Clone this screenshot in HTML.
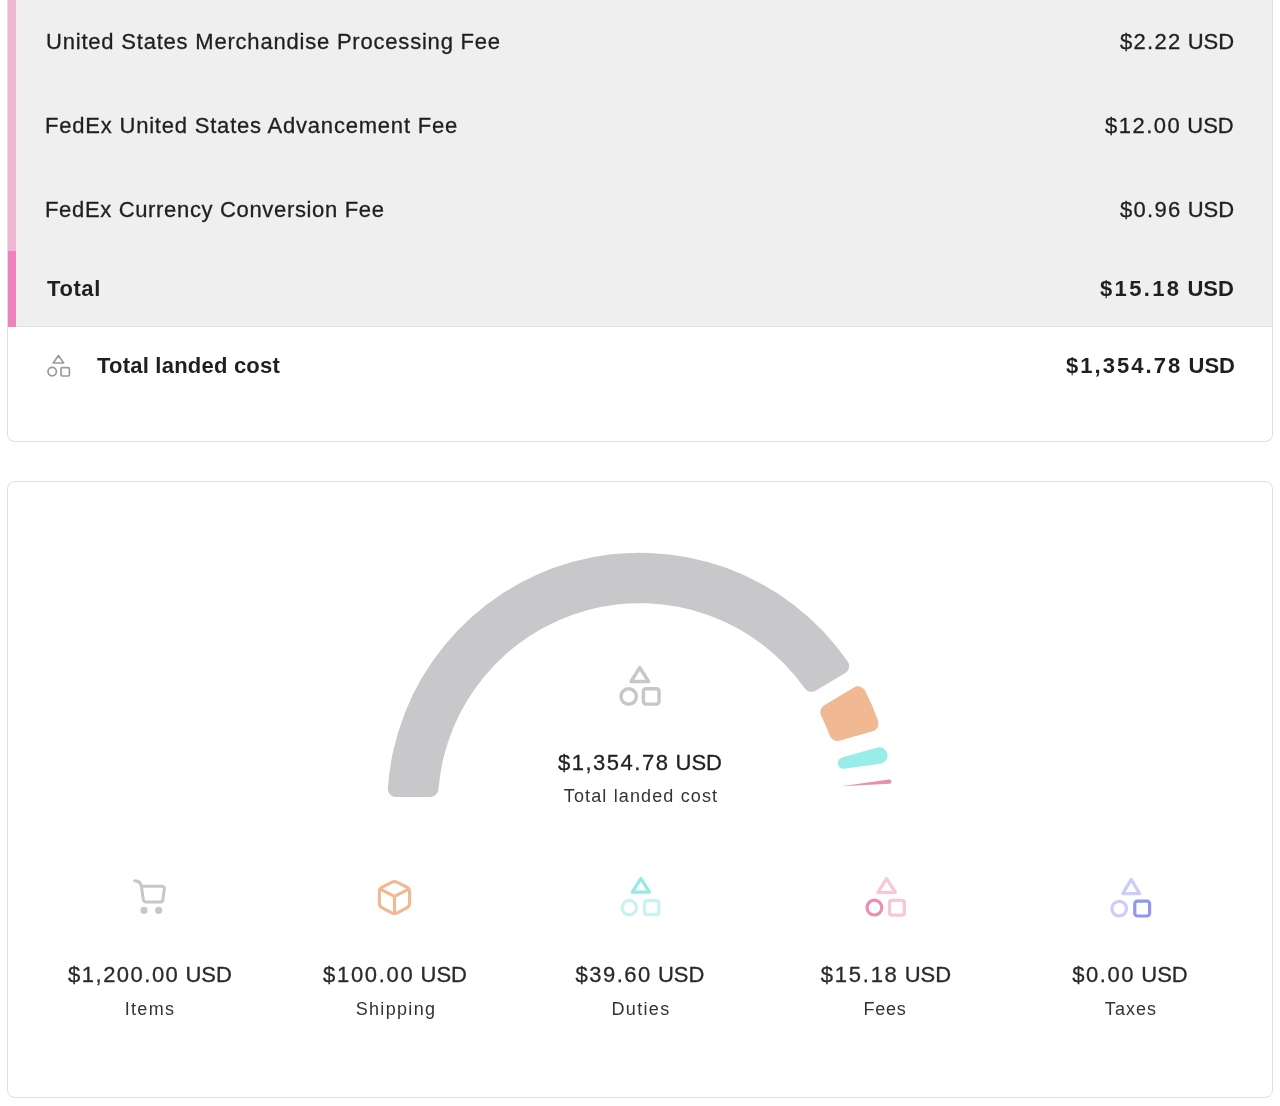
<!DOCTYPE html>
<html><head><meta charset="utf-8">
<style>
html,body{margin:0;padding:0;background:#fff;width:1280px;height:1106px;overflow:hidden;position:relative;font-family:"Liberation Sans",sans-serif;color:#1f1f1f}
.card{position:absolute;left:7px;width:1264px;border:1px solid #e0e0e0;border-radius:8px;background:#fff;box-sizing:content-box}
#c1{top:-20px;height:461px;border-top:none;border-radius:0 0 8px 8px;overflow:hidden}
#c2{top:481px;height:615px}
.gray{position:absolute;left:0;top:0;width:1264px;height:346px;background:#efefef;border-bottom:1px solid #e2e2e2}
.bar1{position:absolute;left:0;top:0;width:8px;height:271px;background:#f2b6d5}
.bar2{position:absolute;left:0;top:271px;width:8px;height:76px;background:#ef82bd}
.t{position:absolute;white-space:nowrap;will-change:transform;-webkit-text-stroke:0.3px currentColor}
svg{position:absolute;left:0;top:0}
</style></head><body>
<div class="card" id="c1">
  <div class="gray"></div>
  <div class="bar1"></div>
  <div class="bar2"></div>
</div>
<div class="card" id="c2"></div>
<svg width="1280" height="1106" viewBox="0 0 1280 1106">
  <g fill="none" stroke="#9b9b9b" stroke-width="1.7" stroke-linejoin="round">
    <path d="M58.4 355.4 L63.6 363 L53.2 363 Z"/>
    <circle cx="52.2" cy="371.6" r="4.2"/>
    <rect x="61" y="367.6" width="8.4" height="8.4" rx="1.2"/>
  </g>
  <g transform="translate(640,805.4)"><path d="M-244.15,-8.47A8.00,8.00,0,0,1,-252.13,-17.01A252.70,252.70,0,0,1,207.73,-143.89A8.00,8.00,0,0,1,205.26,-132.47L175.52,-114.71A8.00,8.00,0,0,1,164.90,-116.95A202.16,202.16,0,0,0,-201.54,-15.84A8.00,8.00,0,0,1,-209.51,-8.47Z" fill="#c8c8ca"/><path d="M213.94,-117.93A8.00,8.00,0,0,1,225.17,-114.69A252.70,252.70,0,0,1,238.16,-84.48A8.00,8.00,0,0,1,232.78,-74.11L199.44,-64.75A8.00,8.00,0,0,1,189.77,-69.70A202.16,202.16,0,0,0,181.15,-89.75A8.00,8.00,0,0,1,184.21,-100.17Z" fill="#f0b994"/><path d="M237.36,-57.79A8.00,8.00,0,0,1,247.35,-51.73A252.70,252.70,0,0,1,247.44,-51.28A8.00,8.00,0,0,1,240.70,-41.73L204.28,-36.71A5.71,5.71,0,0,1,201.96,-47.86Z" fill="#98ede9"/><path d="M249.16,-25.80A2.13,2.13,0,1,1,249.56,-21.56L201.34,-19.03A0.08,0.08,0,0,1,201.33,-19.20Z" fill="#e88fad"/></g>
  <g fill="none" stroke="#c7c7c9" stroke-width="3.4" stroke-linejoin="round">
    <path d="M639.8 667.6 L648.6 681.5 L631 681.5 Z"/>
    <circle cx="628.7" cy="696.5" r="7.7"/>
    <rect x="643.4" y="688.7" width="15.6" height="15.4" rx="2.5"/>
  </g>
  <g fill="none" stroke="#c7c7c9" stroke-width="3" stroke-linecap="round" stroke-linejoin="round">
    <path d="M134.6 880.9 C138.5 880.6 140.4 882.4 141.4 886.2 L143.3 899.5 C143.6 901.2 144.6 902 146.3 902 L160 902 C161.6 902 162.6 901.2 162.9 899.6 L164.3 889.2 C164.6 887.3 163.7 886.2 161.8 886.2 L141.4 886.2"/>
  </g>
  <g fill="#c7c7c9"><circle cx="144" cy="910.3" r="3.6"/><circle cx="158.7" cy="910.3" r="3.6"/></g>
  <g fill="none" stroke="#f0b994" stroke-width="3.1" stroke-linejoin="round" stroke-linecap="round">
    <path d="M397.34 882.37 L406.76 887.23 Q409.60 888.70 409.60 891.90 L409.60 903.30 Q409.60 906.50 406.76 907.97 L397.34 912.83 Q394.50 914.30 391.66 912.83 L382.24 907.97 Q379.40 906.50 379.40 903.30 L379.40 891.90 Q379.40 888.70 382.24 887.23 L391.66 882.37 Q394.50 880.90 397.34 882.37 Z"/>
    <path d="M380.2 889.2 L394.5 896.4 L408.8 889.2 M394.5 896.4 L394.5 913.4"/>
  </g>
  <g fill="none" stroke-width="3.2" stroke-linejoin="round">
    <path d="M640.9 878.6 L649.5 892.2 L632.3 892.2 Z" stroke="#95e9e6"/>
    <circle cx="629.3" cy="907.6" r="7.2" stroke="#c9f3ef"/>
    <rect x="644.6" y="900.6" width="14.2" height="14" rx="2.4" stroke="#c9f3ef"/>
  </g>
  <g fill="none" stroke-width="3.2" stroke-linejoin="round">
    <path d="M886.6 878.6 L895.4 892.3 L877.8 892.3 Z" stroke="#f5c7d9"/>
    <circle cx="874.4" cy="907.6" r="7.4" stroke="#eb8fb0"/>
    <rect x="889.5" y="900.3" width="14.8" height="14.8" rx="2.4" stroke="#f5c7d9"/>
  </g>
  <g fill="none" stroke-width="3.2" stroke-linejoin="round">
    <path d="M1131.2 879.4 L1139.6 893.6 L1122.8 893.6 Z" stroke="#cdcdf6"/>
    <circle cx="1119.2" cy="908.6" r="7.3" stroke="#cdcdf6"/>
    <rect x="1134.8" y="901.2" width="14.8" height="14.8" rx="2.6" stroke="#8f98ec"/>
  </g>
</svg>
<div class="t" id="r1l" style="top:31.40px;letter-spacing:0.794px;font-size:22px;line-height:22px;left:46.00px;">United States Merchandise Processing Fee</div>
<div class="t" id="r1r" style="top:31.40px;letter-spacing:0;font-size:22px;line-height:22px;right:46.29px;text-align:right;"><span style="letter-spacing:1.307px">$2.22</span> USD</div>
<div class="t" id="r2l" style="top:114.70px;letter-spacing:0.794px;font-size:22px;line-height:22px;left:45.00px;">FedEx United States Advancement Fee</div>
<div class="t" id="r2r" style="top:115.20px;letter-spacing:0;font-size:22px;line-height:22px;right:46.13px;text-align:right;"><span style="letter-spacing:1.474px">$12.00</span> USD</div>
<div class="t" id="r3l" style="top:199.30px;letter-spacing:0.663px;font-size:22px;line-height:22px;left:45.00px;">FedEx Currency Conversion Fee</div>
<div class="t" id="r3r" style="top:199.30px;letter-spacing:0;font-size:22px;line-height:22px;right:46.29px;text-align:right;"><span style="letter-spacing:1.307px">$0.96</span> USD</div>
<div class="t" id="r4l" style="top:277.80px;letter-spacing:0.600px;font-size:22px;line-height:22px;font-weight:700;-webkit-text-stroke:0;left:46.60px;">Total</div>
<div class="t" id="r4r" style="top:277.80px;letter-spacing:0;font-size:22px;line-height:22px;font-weight:700;-webkit-text-stroke:0;right:46.27px;text-align:right;"><span style="letter-spacing:2.335px">$15.18</span> USD</div>
<div class="t" id="r5l" style="top:355.00px;letter-spacing:0.219px;font-size:22px;line-height:22px;font-weight:700;-webkit-text-stroke:0;left:97.40px;">Total landed cost</div>
<div class="t" id="r5r" style="top:355.00px;letter-spacing:0;font-size:22px;line-height:22px;font-weight:700;-webkit-text-stroke:0;right:45.55px;text-align:right;"><span style="letter-spacing:2.055px">$1,354.78</span> USD</div>
<div class="t" id="cv" style="top:752.20px;letter-spacing:0;font-size:22px;line-height:22px;left:640.05px;width:600px;margin-left:-300px;text-align:center;"><span style="letter-spacing:1.495px">$1,354.78</span> USD</div>
<div class="t" id="cl" style="top:786.70px;letter-spacing:1.135px;font-size:18px;line-height:18px;color:#333;-webkit-text-stroke:0;left:641.17px;width:600px;margin-left:-300px;text-align:center;">Total landed cost</div>
<div class="t" id="v1" style="top:964.10px;letter-spacing:0;font-size:22px;line-height:22px;color:#2a2a2a;left:149.54px;width:600px;margin-left:-300px;text-align:center;"><span style="letter-spacing:1.488px">$1,200.00</span> USD</div>
<div class="t" id="l1" style="top:999.60px;letter-spacing:1.300px;font-size:18px;line-height:18px;color:#333;-webkit-text-stroke:0;left:150.35px;width:600px;margin-left:-300px;text-align:center;">Items</div>
<div class="t" id="v2" style="top:964.10px;letter-spacing:0;font-size:22px;line-height:22px;color:#2a2a2a;left:394.74px;width:600px;margin-left:-300px;text-align:center;"><span style="letter-spacing:1.685px">$100.00</span> USD</div>
<div class="t" id="l2" style="top:999.60px;letter-spacing:1.319px;font-size:18px;line-height:18px;color:#333;-webkit-text-stroke:0;left:395.56px;width:600px;margin-left:-300px;text-align:center;">Shipping</div>
<div class="t" id="v3" style="top:964.10px;letter-spacing:0;font-size:22px;line-height:22px;color:#2a2a2a;left:640.45px;width:600px;margin-left:-300px;text-align:center;"><span style="letter-spacing:1.489px">$39.60</span> USD</div>
<div class="t" id="l3" style="top:999.60px;letter-spacing:1.320px;font-size:18px;line-height:18px;color:#333;-webkit-text-stroke:0;left:640.96px;width:600px;margin-left:-300px;text-align:center;">Duties</div>
<div class="t" id="v4" style="top:964.10px;letter-spacing:0;font-size:22px;line-height:22px;color:#2a2a2a;left:885.97px;width:600px;margin-left:-300px;text-align:center;"><span style="letter-spacing:1.743px">$15.18</span> USD</div>
<div class="t" id="l4" style="top:999.60px;letter-spacing:0.799px;font-size:18px;line-height:18px;color:#333;-webkit-text-stroke:0;left:884.80px;width:600px;margin-left:-300px;text-align:center;">Fees</div>
<div class="t" id="v5" style="top:964.10px;letter-spacing:0;font-size:22px;line-height:22px;color:#2a2a2a;left:1130.19px;width:600px;margin-left:-300px;text-align:center;"><span style="letter-spacing:1.577px">$0.00</span> USD</div>
<div class="t" id="l5" style="top:999.60px;letter-spacing:1.050px;font-size:18px;line-height:18px;color:#333;-webkit-text-stroke:0;left:1131.03px;width:600px;margin-left:-300px;text-align:center;">Taxes</div>
</body></html>
